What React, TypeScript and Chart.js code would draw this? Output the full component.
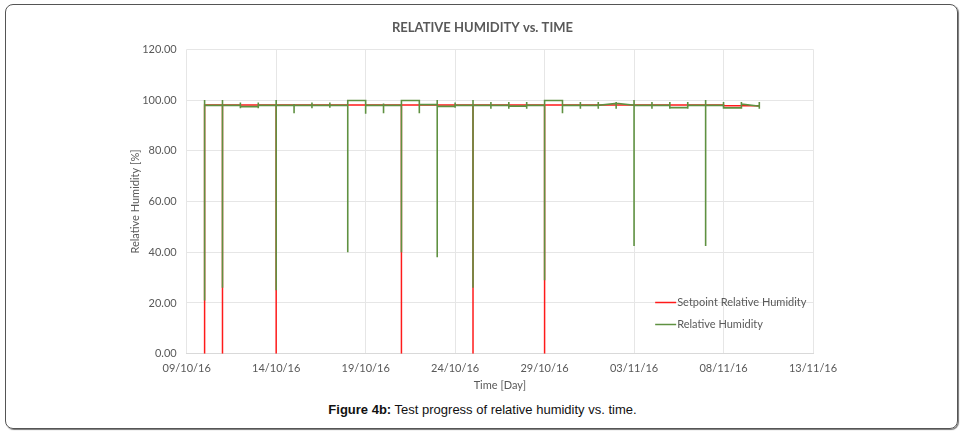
import React, { useEffect, useRef } from "react";
import { Chart, registerables } from "chart.js";

Chart.register(...registerables);

// X axis: days since 09/10/16, tick every 5 days
const xTickLabels = ["09/10/16", "14/10/16", "19/10/16", "24/10/16", "29/10/16", "03/11/16", "08/11/16", "13/11/16"];
const xMaxDays = 35;
const yMax = 120;
const yStep = 20;

const seriesNames = ["Setpoint Relative Humidity", "Relative Humidity"];

// Reading days (days since 09/10/16)
const readingDays = [1, 2, 3, 4, 5, 6, 7, 8, 9, 10, 11, 12, 13, 14, 15, 16, 17, 18, 19, 20, 21, 22, 23, 24, 25, 26, 27, 28, 29, 30, 31, 32];

// Relative humidity per reading: value on arrival, max, min, value on leaving
const rhArrive = [100, 97.9, 97.9, 97.4, 97.9, 97.9, 97.9, 97.9, 97.9, 99.8, 97.9, 97.9, 99.8, 98.2, 97.5, 97.9, 97.9, 97.9, 97.6, 97.9, 99.8, 97.9, 97.9, 98.7, 98.0, 97.9, 97.9, 97.0, 97.9, 97.9, 96.9, 97.6];
const rhHigh = [100, 100, 99.0, 99.0, 100, 98.4, 99.0, 99.0, 99.8, 99.8, 98.6, 99.8, 99.8, 100, 99.0, 100, 99.2, 99.2, 99.2, 99.8, 99.8, 99.2, 99.2, 99.2, 100, 99.2, 99.2, 99.2, 100, 99.2, 99.2, 99.2];
const rhLow = [21, 26, 96.8, 96.8, 25, 94.8, 96.8, 97.0, 40, 94.6, 94.8, 40, 94.8, 38, 97.0, 26, 96.6, 96.6, 96.6, 29, 94.8, 96.6, 96.6, 96.6, 42.5, 96.6, 96.6, 96.6, 42.5, 96.6, 96.6, 96.6];
const rhLeave = [97.9, 97.9, 97.4, 97.9, 97.9, 97.9, 97.9, 97.9, 99.8, 97.9, 97.9, 99.8, 98.2, 97.5, 97.9, 97.9, 97.9, 97.6, 97.9, 99.8, 97.9, 97.9, 97.9, 98.7, 97.9, 97.9, 97.0, 97.9, 97.9, 96.9, 98.4, 97.5];

// Setpoint per reading: level and minimum reached at that reading
const setpointLevel = [98, 98, 98, 98, 98, 98, 98, 98, 98, 98, 98, 98, 98, 98, 98, 98, 98, 98, 98, 98, 98, 98, 98, 98, 98, 98, 98, 98, 98, 97.7, 97.7, 97.7];
const setpointLow = [0, 0, 98, 98, 0, 98, 98, 98, 98, 98, 98, 0, 98, 98, 98, 0, 98, 98, 98, 0, 98, 98, 98, 98, 98, 98, 98, 98, 98, 97.7, 97.7, 97.7];

function buildRh() {
  const pts: { x: number; y: number }[] = [];
  readingDays.forEach((d, i) => {
    pts.push({ x: d, y: rhArrive[i] });
    pts.push({ x: d, y: rhHigh[i] });
    pts.push({ x: d, y: rhLow[i] });
    pts.push({ x: d, y: rhLeave[i] });
  });
  return pts;
}

function buildSetpoint() {
  const pts: { x: number; y: number }[] = [];
  readingDays.forEach((d, i) => {
    if (i > 0) pts.push({ x: d, y: setpointLevel[i - 1] });
    pts.push({ x: d, y: setpointLow[i] });
    pts.push({ x: d, y: setpointLevel[i] });
  });
  return pts;
}

const FONT = "Lato, 'Noto Sans', sans-serif";
const GREY = "#595959";

const insideLegend = {
  id: "insideLegend",
  afterDraw(chart: any) {
    const { ctx, chartArea } = chart;
    const w = chartArea.right - chartArea.left;
    const h = chartArea.bottom - chartArea.top;
    const x0 = chartArea.left + w * 0.748;
    ctx.save();
    ctx.font = `11px ${FONT}`;
    ctx.textBaseline = "middle";
    ctx.textAlign = "left";
    chart.data.datasets.forEach((ds: any, i: number) => {
      const y = Math.round(chartArea.top + h * (0.83 + i * 0.073)) + 0.5;
      ctx.strokeStyle = ds.borderColor;
      ctx.lineWidth = 1.5;
      ctx.beginPath();
      ctx.moveTo(x0, y);
      ctx.lineTo(x0 + 21, y);
      ctx.stroke();
      ctx.fillStyle = GREY;
      ctx.fillText(ds.label, x0 + 22, y);
    });
    ctx.restore();
  },
};

export default function App() {
  const ref = useRef<HTMLCanvasElement | null>(null);

  useEffect(() => {
    if (!ref.current) return;
    const chart = new Chart(ref.current, {
      type: "line",
      data: {
        datasets: [
          {
            label: seriesNames[0],
            data: buildSetpoint(),
            borderColor: "#ff1a1a",
            borderWidth: 1.5,
            pointRadius: 0,
            tension: 0,
            order: 2,
          },
          {
            label: seriesNames[1],
            data: buildRh(),
            borderColor: "#5f9141",
            borderWidth: 1.6,
            pointRadius: 0,
            tension: 0,
            order: 1,
          },
        ],
      },
      options: {
        responsive: false,
        animation: false,
        parsing: true,
        layout: { padding: 0 },
        plugins: {
          legend: { display: false },
          tooltip: { enabled: false },
          title: {
            display: true,
            text: "RELATIVE HUMIDITY vs. TIME",
            color: GREY,
            font: { family: FONT, size: 13, weight: "bold" },
            padding: { top: 20.2, bottom: 13.5 },
          },
        },
        scales: {
          x: {
            type: "linear",
            min: 0,
            max: xMaxDays,
            ticks: {
              stepSize: 5,
              autoSkip: false,
              maxRotation: 0,
              color: GREY,
              padding: 8,
              font: { family: FONT, size: 11 },
              callback: (v: any) => xTickLabels[Math.round(Number(v) / 5)] ?? "",
            },
            grid: { color: "#e6e6e6", drawTicks: false },
            border: { display: true, color: "#d9d9d9" },
            title: {
              display: true,
              text: "Time [Day]",
              color: GREY,
              font: { family: FONT, size: 11 },
              padding: { top: 0, bottom: 8.4 },
            },
            afterFit: (s: any) => {
              s.height = 46.3;
            },
          },
          y: {
            type: "linear",
            min: 0,
            max: yMax,
            ticks: {
              stepSize: yStep,
              color: GREY,
              padding: 10,
              font: { family: FONT, size: 11 },
              callback: (v: any) => Number(v).toFixed(2),
            },
            grid: { color: "#e6e6e6", drawTicks: false },
            border: { display: false },
            title: {
              display: true,
              text: "Relative Humidity [%]",
              color: GREY,
              font: { family: FONT, size: 11 },
              padding: { top: 128.4, bottom: 0 },
            },
            afterFit: (s: any) => {
              s.width = 186.7;
            },
          },
          yRight: {
            type: "linear",
            position: "right",
            display: true,
            grid: { display: false, drawTicks: false },
            ticks: { display: false },
            border: { display: false },
            afterFit: (s: any) => {
              s.width = 152;
            },
          },
        },
      } as any,
      plugins: [insideLegend],
    });
    return () => chart.destroy();
  }, []);

  return (
    <div style={{ position: "absolute", left: 0, top: 0, width: 965, height: 435, background: "#fff" }}>
      <div
        style={{
          position: "absolute",
          left: 5,
          top: 4,
          width: 953,
          height: 425,
          boxSizing: "border-box",
          border: "1px solid #555",
          borderRadius: 8,
          boxShadow: "1px 1px 1px #777",
        }}
      />
      <canvas
        ref={ref}
        width={965}
        height={400}
        style={{ position: "absolute", left: 0, top: 0, width: 965, height: 400 }}
      />
      <div
        style={{
          position: "absolute",
          left: 0,
          top: 402,
          width: 965,
          textAlign: "center",
          fontFamily: "'Liberation Sans Narrow', 'Arial Narrow', Arial, sans-serif",
          fontSize: 13,
          lineHeight: "16px",
          color: "#111",
        }}
      >
        <b>Figure 4b:</b> Test progress of relative humidity vs. time.
      </div>
    </div>
  );
}
